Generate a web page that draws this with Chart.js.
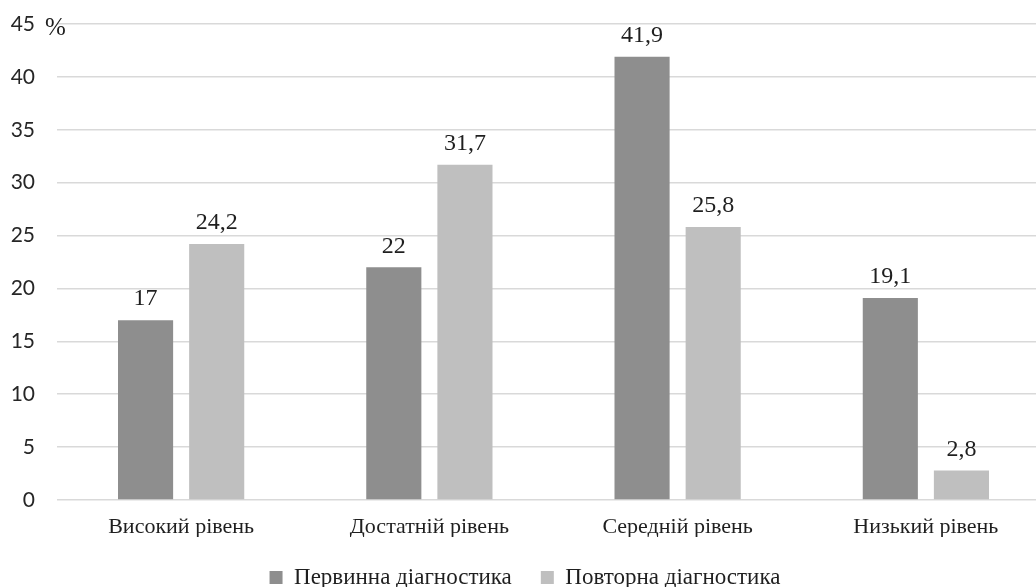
<!DOCTYPE html>
<html>
<head>
<meta charset="utf-8">
<script src="https://cdn.jsdelivr.net/npm/chart.js@4.4.1/dist/chart.umd.min.js"></script>
<style>
  html, body { margin: 0; padding: 0; background: #fff; overflow: hidden; }
  #wrap { width: 1050px; height: 587px; position: relative; }
</style>
</head>
<body>
<div id="wrap"><canvas id="c"></canvas></div>
<script>
// Diagnostic levels and percentages for each round
const categories = ['Високий рівень', 'Достатній рівень', 'Середній рівень', 'Низький рівень'];
const seriesNames = ['Первинна діагностика', 'Повторна діагностика'];
const primaryValues = [17, 22, 41.9, 19.1];
const repeatValues = [24.2, 31.7, 25.8, 2.8];
const yTicks = [0, 5, 10, 15, 20, 25, 30, 35, 40, 45];

const serif = "'Liberation Serif', 'Times New Roman', serif";
const sans = "Lato, 'Open Sans', sans-serif";
const LEGEND_HEIGHT = 50;

// Value labels above each bar, decimal comma
const valueLabels = {
  id: 'valueLabels',
  afterDatasetsDraw(chart) {
    const ctx = chart.ctx;
    ctx.save();
    ctx.font = '24px ' + serif;
    ctx.fillStyle = '#1f1f1f';
    ctx.textAlign = 'center';
    ctx.textBaseline = 'bottom';
    chart.data.datasets.forEach((ds, i) => {
      chart.getDatasetMeta(i).data.forEach((bar, j) => {
        const txt = String(ds.data[j]).replace('.', ',');
        ctx.fillText(txt, bar.x, bar.y - 9);
      });
    });
    ctx.restore();
  }
};

// Unit sign beside the top tick
const unitSign = {
  id: 'unitSign',
  afterDraw(chart) {
    const y = chart.scales.y;
    const ctx = chart.ctx;
    ctx.save();
    ctx.font = '25px ' + serif;
    ctx.fillStyle = '#1f1f1f';
    ctx.textAlign = 'left';
    ctx.textBaseline = 'middle';
    ctx.fillText('%', chart.chartArea.left - 12, y.getPixelForValue(yTicks[yTicks.length - 1]) + 4);
    ctx.restore();
  }
};

// Fixed legend band height
const legendBand = {
  id: 'legendBand',
  beforeLayout(chart) {
    const lg = chart.legend;
    if (lg && !lg.__fixed) {
      const fit = lg.fit;
      lg.fit = function () { fit.call(this); this.height = LEGEND_HEIGHT; };
      lg.__fixed = true;
    }
  }
};

new Chart(document.getElementById('c'), {
  type: 'bar',
  data: {
    labels: categories,
    datasets: [
      { label: seriesNames[0], data: primaryValues, backgroundColor: '#8e8e8e' },
      { label: seriesNames[1], data: repeatValues, backgroundColor: '#bfbfbf' }
    ]
  },
  options: {
    responsive: true,
    maintainAspectRatio: false,
    animation: false,
    devicePixelRatio: 1,
    layout: { padding: { top: 24, right: 0, left: 0, bottom: 0 } },
    datasets: { bar: { categoryPercentage: 0.573, barPercentage: 0.775 } },
    scales: {
      x: {
        grid: { display: false, drawTicks: false },
        border: { display: false },
        ticks: { font: { family: serif, size: 22 }, color: '#1f1f1f', padding: 14 },
        afterFit(s) { s.height = 37; }
      },
      y: {
        min: 0, max: 45,
        afterBuildTicks(s) { s.ticks = yTicks.map(v => ({ value: v })); },
        grid: { color: '#d9d9d9', lineWidth: 1.5, drawTicks: false },
        border: { display: false },
        ticks: { font: { family: sans, size: 21 }, color: '#262626', padding: 22 },
        afterFit(s) { s.width = 57; s.paddingTop = 0; s.paddingBottom = 0; }
      }
    },
    plugins: {
      tooltip: { enabled: false },
      legend: {
        position: 'bottom',
        labels: {
          font: { family: serif, size: 23 },
          color: '#1f1f1f',
          boxWidth: 13, boxHeight: 13,
          padding: 29
        }
      }
    }
  },
  plugins: [valueLabels, unitSign, legendBand]
});
</script>
</body>
</html>
